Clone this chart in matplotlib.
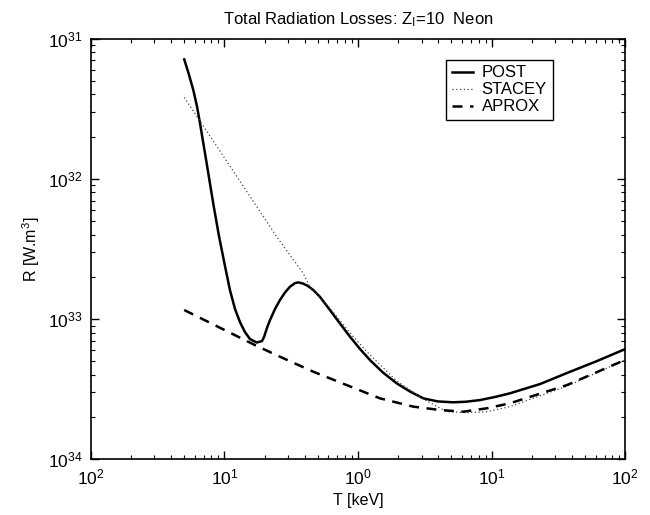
import matplotlib
matplotlib.use('Agg')
import matplotlib.pyplot as plt
import numpy as np

plt.rcParams['font.family'] = ['Liberation Sans', 'DejaVu Sans']
plt.rcParams['mathtext.fontset'] = 'custom'
plt.rcParams['mathtext.rm'] = 'Liberation Sans'
plt.rcParams['mathtext.it'] = 'Liberation Sans:italic'
plt.rcParams['mathtext.default'] = 'regular'

# values, as log10 exponents
post_logT = [-1.300, -1.268, -1.232, -1.205, -1.182, -1.132, -1.083, -1.040, -0.995, -0.958,
             -0.920, -0.883, -0.846, -0.808, -0.758, -0.718, -0.703, -0.681, -0.658, -0.621,
             -0.584, -0.546, -0.509, -0.471, -0.447, -0.412, -0.374, -0.334, -0.284, -0.210,
             -0.135, -0.060, 0.015, 0.090, 0.187, 0.290, 0.389, 0.489, 0.599, 0.713,
             0.808, 0.913, 1.025, 1.137, 1.362, 1.564, 1.788, 2.000]
post_logR = [-31.148, -31.246, -31.367, -31.481, -31.604, -31.890, -32.175, -32.408, -32.622, -32.793,
             -32.928, -33.021, -33.092, -33.142, -33.167, -33.156, -33.128, -33.063, -33.006, -32.928,
             -32.864, -32.810, -32.769, -32.743, -32.738, -32.746, -32.764, -32.793, -32.842, -32.935,
             -33.031, -33.125, -33.213, -33.292, -33.381, -33.458, -33.516, -33.565, -33.587, -33.593,
             -33.589, -33.577, -33.555, -33.529, -33.463, -33.384, -33.299, -33.213]

stacey_logT = [-1.300, -0.958, -0.608, -0.409, -0.359, -0.210, -0.060, 0.090, 0.290,
               0.489, 0.664, 0.813, 0.963, 1.137, 1.564, 2.000]
stacey_logR = [-31.419, -31.909, -32.413, -32.674, -32.771, -32.921, -33.099, -33.256, -33.441,
               -33.570, -33.660, -33.667, -33.660, -33.624, -33.477, -33.290]

aprox_logT = [-1.300, -0.771, -0.584, -0.334, -0.085, 0.165, 0.414, 0.614, 0.788,
              0.963, 1.137, 1.564, 2.000]
aprox_logR = [-32.935, -33.185, -33.268, -33.375, -33.470, -33.565, -33.624, -33.648, -33.660,
              -33.636, -33.600, -33.470, -33.290]

xtick_vals = [1e-2, 1e-1, 1e0, 1e1, 1e2]
xtick_labels = ['$10^{2}$', '$10^{1}$', '$10^{0}$', '$10^{1}$', '$10^{2}$']
ytick_vals = [1e-34, 1e-33, 1e-32, 1e-31]
ytick_labels = ['$10^{34}$', '$10^{33}$', '$10^{32}$', '$10^{31}$']

fig, ax = plt.subplots(figsize=(6.5, 5.15), dpi=100)
fig.subplots_adjust(left=0.1395, right=0.962, bottom=0.108, top=0.925)

ax.loglog(10 ** np.array(post_logT), 10 ** np.array(post_logR), color='black', lw=1.8,
          label='POST')
ax.loglog(10 ** np.array(stacey_logT), 10 ** np.array(stacey_logR), color='#444444',
          lw=0.9, ls=(0, (1, 2)), label='STACEY')
ax.loglog(10 ** np.array(aprox_logT), 10 ** np.array(aprox_logR), color='black', lw=1.8,
          ls=(0, (4, 3)), label='APROX')

ax.set_xlim(1e-2, 1e2)
ax.set_ylim(1e-34, 1e-31)
ax.set_xticks(xtick_vals)
ax.set_xticklabels(xtick_labels, fontsize=12.5)
ax.set_yticks(ytick_vals)
ax.set_yticklabels(ytick_labels, fontsize=12.5)
ax.tick_params(which='both', direction='in', top=True, right=True)
ax.tick_params(which='major', length=6, width=1.0, pad=6)
ax.tick_params(which='minor', length=3, width=0.8)
for s in ax.spines.values():
    s.set_linewidth(1.2)

ax.set_title('Total Radiation Losses: Z$_I$=10  Neon', fontsize=12, pad=10)
ax.set_xlabel('T [keV]', fontsize=11.5)
ax.set_ylabel('R [W.m$^3$]', fontsize=11.5)

leg = ax.legend(loc='upper right', bbox_to_anchor=(0.88, 0.97), fontsize=12,
                handlelength=1.3, labelspacing=0.12, borderpad=0.35, handletextpad=0.5,
                fancybox=False, framealpha=1, edgecolor='black')
leg.get_frame().set_linewidth(1.0)

fig.savefig('out.png', dpi=100)
